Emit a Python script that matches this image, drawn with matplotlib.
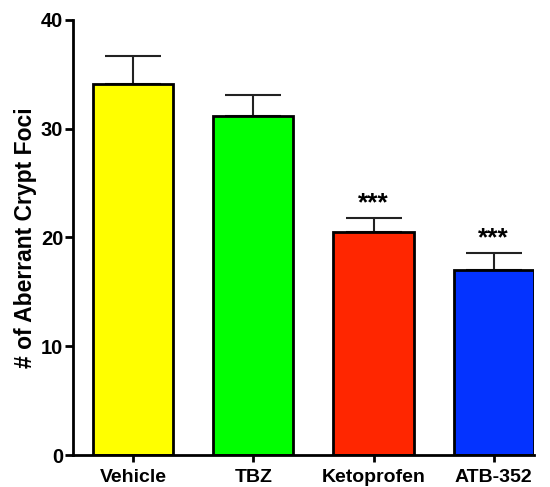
import matplotlib
matplotlib.use("Agg")
import matplotlib.pyplot as plt

groups = ["Vehicle", "TBZ", "Ketoprofen", "ATB-352"]
means = [34.1, 31.2, 20.5, 17.0]
sems = [2.6, 1.9, 1.3, 1.6]
stars = ["", "", "***", "***"]
colors = ["#FFFF00", "#00FF00", "#FF2600", "#0433FF"]

plt.rcParams["font.family"] = ["Liberation Sans", "DejaVu Sans"]
plt.rcParams["font.weight"] = "bold"

fig = plt.figure(figsize=(5.5, 4.87), dpi=100)
ax = fig.add_axes([0.1327, 0.0657, 0.8383, 0.8933])

x = list(range(len(groups)))
ax.bar(x, means, width=0.667, color=colors, edgecolor="black", linewidth=2, zorder=2)
ax.errorbar(x, means, yerr=[[0] * len(sems), sems], fmt="none", ecolor="#222222",
            elinewidth=1.5, capsize=20, capthick=1.5, zorder=1)
for xi, m, s, st in zip(x, means, sems, stars):
    if st:
        ax.text(xi, m + s + 0.2, st, ha="center", va="bottom", fontsize=19, fontweight="bold")

ax.set_xlim(-0.5, 3.335)
ax.set_ylim(0, 40)
ax.set_yticks([0, 10, 20, 30, 40])
ax.set_xticks(x)
ax.set_xticklabels(groups, fontsize=14, fontweight="bold")
ax.tick_params(axis="y", labelsize=14.5, width=2, length=6, pad=1)
ax.tick_params(axis="x", width=2, length=5, pad=5)
for lab in ax.get_yticklabels():
    lab.set_fontweight("bold")
ax.set_ylabel("# of Aberrant Crypt Foci", fontsize=16.5, fontweight="bold", labelpad=3)
ax.spines["top"].set_visible(False)
ax.spines["right"].set_visible(False)
ax.spines["left"].set_linewidth(2)
ax.spines["bottom"].set_linewidth(2)

fig.savefig("out.png", dpi=100)
